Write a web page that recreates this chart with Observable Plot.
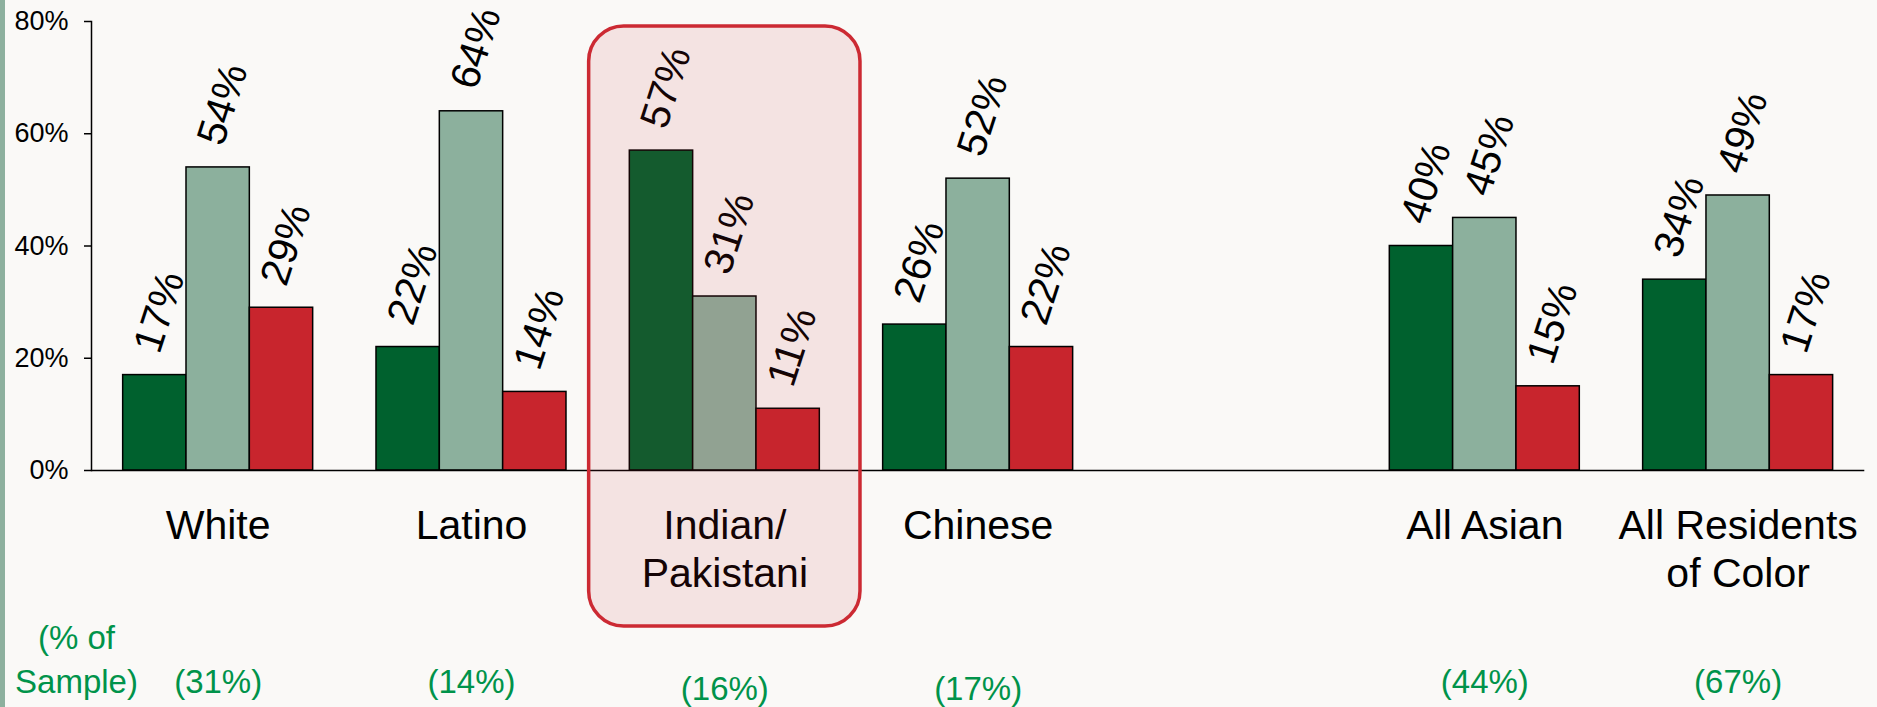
<!DOCTYPE html>
<html><head><meta charset="utf-8">
<script src="https://cdn.jsdelivr.net/npm/d3@7"></script>
<script src="https://cdn.jsdelivr.net/npm/@observablehq/plot@0.6"></script>
<style>
html,body{margin:0;padding:0;background:#faf9f7;}
#wrap{position:relative;width:1877px;height:707px;overflow:hidden;}
#stripe{position:absolute;left:0;top:0;width:5px;height:707px;background:#8db09e;}
</style></head><body>
<div id="wrap"><div id="chart"></div><div id="stripe"></div></div>
<script>
const slots = ["White","Latino","Indian/Pakistani","Chinese","","All Asian","All Residents of Color"];
const categories = ["White","Latino","Indian/Pakistani","Chinese","All Asian","All Residents of Color"];
const categoryLabels = ["White","Latino","Indian/\nPakistani","Chinese","All Asian","All Residents\nof Color"];
const series = ["Series 1","Series 2","Series 3"];
const seriesColors = ["#00612e","#8cb09d","#c8252d"];
const values1 = [17,22,57,26,40,34];
const values2 = [54,64,31,52,45,49];
const values3 = [29,14,11,22,15,17];
const sampleShare = [31,14,16,17,44,67];
const sampleHeader = "(% of\nSample)";
const yTicks = [0,20,40,60,80];
const highlighted = "Indian/Pakistani";
const loweredShare = ["Indian/Pakistani","Chinese"];

const unit = (cat, j) => `${cat}|${j}`;
const xDomain = slots.flatMap((s,i) => (i < slots.length-1 ? [0,1,2,"gap"] : [0,1,2]).map(j => unit(s,j)));
const seriesValues = [values1, values2, values3];
const bars = categories.flatMap((c,i) => series.map((s,j) => ({category:c, series:s, value:seriesValues[j][i], key:unit(c,j)})));
const labels = categories.map((c,i) => ({category:c, label:categoryLabels[i], share:`(${sampleShare[i]}%)`, key:unit(c,1)}));

const chart = Plot.plot({
  width:1877, height:707, marginLeft:91, marginRight:12.7, marginTop:21, marginBottom:237,
  style:{background:"#faf9f7", fontFamily:"'Liberation Sans', Arial, sans-serif", color:"black", overflow:"visible"},
  x:{type:"band", domain:xDomain, paddingInner:0, paddingOuter:0.5, round:false, axis:null},
  y:{domain:[0,80], label:null},
  color:{domain:series, range:seriesColors},
  marks:[
    Plot.barY(bars, {x:"key", y:"value", fill:"series", stroke:"black", strokeWidth:1.5}),
    Plot.ruleY([0], {stroke:"black", strokeWidth:1.5}),
    Plot.frame({anchor:"left", stroke:"black", strokeWidth:1.5}),
    Plot.axisY({ticks:yTicks, tickFormat:d => d + "%", tickSize:7, tickPadding:16, fontSize:27, strokeWidth:1.5, label:null}),
    Plot.text(bars, {x:"key", y:"value", text:d => d.value + "%", rotate:-72, textAnchor:"start", lineAnchor:"middle", dx:-8, dy:-24, fontSize:41, fill:"black"}),
    Plot.text(labels, {x:"key", text:"label", frameAnchor:"bottom", lineAnchor:"top", dy:34, fontSize:41, lineHeight:1.18, fill:"black"}),
    Plot.text(labels, {filter:d => !loweredShare.includes(d.category), x:"key", text:"share", frameAnchor:"bottom", lineAnchor:"bottom", dy:222, fontSize:33, fill:"#00934a"}),
    Plot.text(labels, {filter:d => loweredShare.includes(d.category), x:"key", text:"share", frameAnchor:"bottom", lineAnchor:"bottom", dy:229, fontSize:33, fill:"#00934a"}),
    Plot.text([sampleHeader], {frameAnchor:"bottom-left", dx:-15, dy:222, lineAnchor:"bottom", lineHeight:1.33, fontSize:33, fill:"#00934a", textAnchor:"middle"}),
    Plot.barY(labels.filter(d => d.category === highlighted), {x:"key", y1:0, y2:80, insetLeft:-104, insetRight:-104, insetTop:5, insetBottom:-156, rx:35, fill:"#c8252d", fillOpacity:0.1, stroke:"#cc2a33", strokeWidth:3.5})
  ]
});
document.getElementById("chart").appendChild(chart);
</script>
</body></html>
